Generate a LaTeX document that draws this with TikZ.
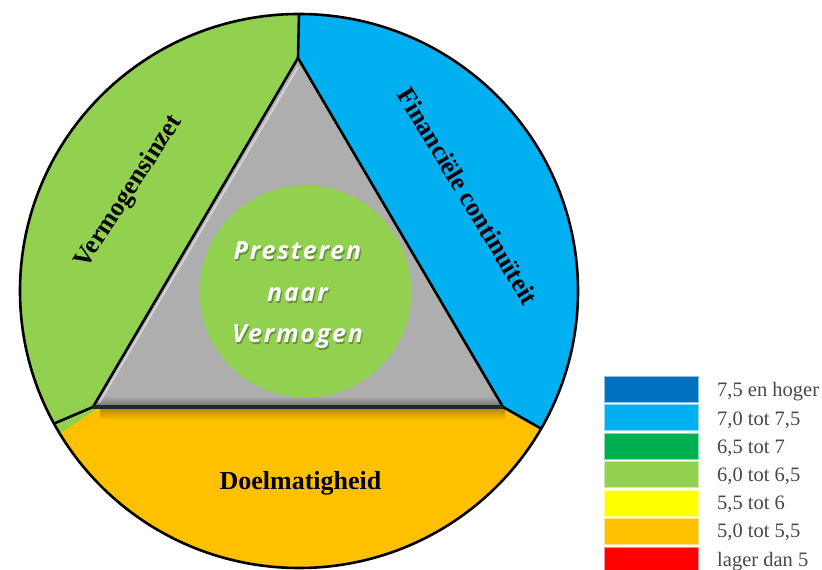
\documentclass[tikz,border=0pt]{standalone}
\usepackage{fontspec}
\setmainfont{Liberation Serif}
\newfontfamily\osans{Open Sans}[LetterSpace=7]
\usetikzlibrary{calc}

\definecolor{cDarkBlue}{HTML}{0070C0}
\definecolor{cBlue}{HTML}{00B0F0}
\definecolor{cDarkGreen}{HTML}{00B050}
\definecolor{cGreen}{HTML}{92D050}
\definecolor{cYellow}{HTML}{FFFF00}
\definecolor{cOrange}{HTML}{FFC000}
\definecolor{cRed}{HTML}{FF0000}
\definecolor{cGray}{HTML}{AEAEAE}

\tikzset{
  outline/.style={draw=black, line width=2.6pt, line join=round},
  sidelabel/.style={font=\bfseries\fontsize{26}{30}\selectfont, inner sep=0pt},
  coretext/.style={font=\osans\bfseries\itshape\fontsize{25}{30}\selectfont, text=white, inner sep=0pt, anchor=base},
  coreshadow/.style={coretext, text=black, opacity=0.3},
  legbox/.style={minimum width=94pt, minimum height=26pt, inner sep=0pt, line width=0.8pt},
  legtext/.style={anchor=base west, inner sep=0pt, text=black!72, font=\fontsize{20.5}{24}\selectfont},
}

\begin{document}
\begin{tikzpicture}[x=1pt,y=1pt]
\useasboundingbox (0,0) rectangle (822,570);

% geometry of the ring and the triangle
\coordinate (C)  at (299,279);
\coordinate (T)  at ($(C)+(90:279pt and 277pt)$);
\coordinate (L)  at ($(C)+(208.6:279pt and 277pt)$);
\coordinate (R)  at ($(C)+(330.2:279pt and 277pt)$);
\coordinate (Y1) at ($(C)+(211:279pt and 277pt)$);
\coordinate (A)  at (298,512);
\coordinate (BL) at (93,163);
\coordinate (BR) at (503,163);
\coordinate (YL) at (100,163);

% sectors
\fill[cGreen] (T) arc[start angle=90, end angle=213, x radius=279pt, y radius=277pt]
  -- (YL) -- (BL) -- (A) -- cycle;
\fill[cBlue] (A) -- (T) arc[start angle=90, end angle=-29.8, x radius=279pt, y radius=277pt]
  -- (BR) -- cycle;
\fill[cOrange] (Y1) arc[start angle=211, end angle=330.2, x radius=279pt, y radius=277pt]
  -- (BR) -- (YL) -- cycle;

% shadow under the base of the triangle
\shade[top color=cOrange!70!black, bottom color=cOrange] (100,162) rectangle (505,150);

% central triangle with a soft bevel
\fill[cGray] (A) -- (BL) -- (BR) -- cycle;
\shade[top color=cGray, bottom color=cGray!70!black] (103,174) -- (493,174) -- (500,165) -- (96,165) -- cycle;
\draw[white, opacity=0.45, line width=2pt] ($(BL)+(6,4)$) -- ($(A)+(0,-9)$);

% outlines
\draw[outline] (C) ellipse[x radius=279pt, y radius=277pt];
\draw[outline] (T) -- (A);
\draw[outline] (L) -- (BL);
\draw[outline] (R) -- (BR);
\draw[outline] (A) -- (BL);
\draw[outline] (A) -- (BR);
\draw[draw=black!85, line width=4pt] (BL) -- (BR);

% core disc
\fill[cGreen] (305.5,278.5) circle[radius=106pt];
\node[coreshadow] (s1) at (298.7,308.7) {Presteren};
\node[coreshadow] (s2) at (298.7,266.7) {naar};
\node[coreshadow] (s3) at (298.7,225.7) {Vermogen};
\node[coretext] (p1) at (297.5,310) {Presteren};
\node[coretext] (p2) at (297.5,268) {naar};
\node[coretext] (p3) at (297.5,227) {Vermogen};

% sector labels
\node[sidelabel, rotate=57]  (lv) at (129,378) {Vermogensinzet};
\node[sidelabel, rotate=-59] (lf) at (468,374) {Financiële continuïteit};
\node[sidelabel, anchor=base] (ld) at (300.5,80) {Doelmatigheid};

% legend
\node[legbox, fill=cDarkBlue,  draw=cDarkBlue!45]  (lg1) at (651,181)   {};
\node[legbox, fill=cBlue,      draw=cBlue!45]      (lg2) at (651,152.5) {};
\node[legbox, fill=cDarkGreen, draw=cDarkGreen!45] (lg3) at (651,124)   {};
\node[legbox, fill=cGreen,     draw=cGreen!45]     (lg4) at (651,95.5)  {};
\node[legbox, fill=cYellow,    draw=cYellow!45]    (lg5) at (651,67)    {};
\node[legbox, fill=cOrange,    draw=cOrange!45]    (lg6) at (651,38.5)  {};
\node[legbox, fill=cRed,       draw=cRed!45]       (lg7) at (651,10)    {};

\node[legtext] (lt1) at (717,173)   {7,5 en hoger};
\node[legtext] (lt2) at (717,144.8) {7,0 tot 7,5};
\node[legtext] (lt3) at (717,116.6) {6,5 tot 7};
\node[legtext] (lt4) at (717,88.4)  {6,0 tot 6,5};
\node[legtext] (lt5) at (717,60.2)  {5,5 tot 6};
\node[legtext] (lt6) at (717,32)    {5,0 tot 5,5};
\node[legtext] (lt7) at (717,3.8)   {lager dan 5};
\end{tikzpicture}
\end{document}
